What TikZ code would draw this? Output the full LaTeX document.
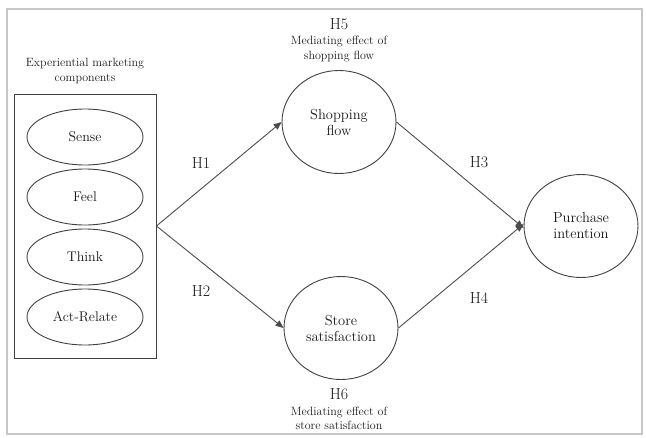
\documentclass[tikz,border=0pt]{standalone}
\usetikzlibrary{arrows.meta,shapes.geometric}
\begin{document}
\begin{tikzpicture}[x=1pt,y=-1pt,
  lbl/.style={font=\fontsize{16}{17}\selectfont, text=black!90, align=center, inner sep=0pt},
  small/.style={font=\fontsize{12}{14.5}\selectfont, text=black!90, align=center, inner sep=0pt},
  comp/.style={draw=black!75, line width=0.9pt, ellipse, minimum width=116pt, minimum height=56pt, inner sep=0pt, font=\fontsize{14}{15}\selectfont, text=black!90},
  construct/.style={draw=black!75, line width=0.9pt, ellipse, minimum width=114pt, minimum height=103pt, inner sep=0pt, align=center, font=\fontsize{14.5}{16}\selectfont, text=black!90},
  link/.style={draw=black!70, line width=0.9pt, -{Triangle[length=8pt,width=6.5pt]}}
]
\useasboundingbox (0,0) rectangle (646,437);
\draw[draw=black!22, line width=1.6pt] (7,9) rectangle (642,434);

\node[small] (title) at (85,71) {Experiential marketing\\components};
\node[draw=black!75, line width=0.9pt, minimum width=142pt, minimum height=264pt, inner sep=0pt] (box) at (85,226) {};
\node[comp] (sense) at (85,137) {Sense};
\node[comp] (feel) at (85,197) {Feel};
\node[comp] (think) at (85,257) {Think};
\node[comp] (act) at (85,317) {Act-Relate};

\node[construct] (flow) at (339,122) {Shopping\\flow};
\node[construct] (sat) at (341,328) {Store\\satisfaction};
\node[construct] (pi) at (581,226) {Purchase\\intention};

\coordinate (src) at (box.east);
\draw[link] (src) -- (flow.west);
\draw[link] (src) -- (sat.west);
\draw[link] (flow.east) -- ([yshift=-2pt]pi.west);
\draw[link] (sat.east) -- ([yshift=2pt]pi.west);

\node[lbl] (h1) at (201,163) {H1};
\node[lbl] (h2) at (201,291) {H2};
\node[lbl] (h3) at (479,162) {H3};
\node[lbl] (h4) at (479,298) {H4};
\node[lbl] (h5) at (339,24) {H5};
\node[small] (m5) at (339,49) {Mediating effect of\\shopping flow};
\node[lbl] (h6) at (339,394) {H6};
\node[small] (m6) at (339,418.5) {Mediating effect of\\store satisfaction};
\end{tikzpicture}
\end{document}
